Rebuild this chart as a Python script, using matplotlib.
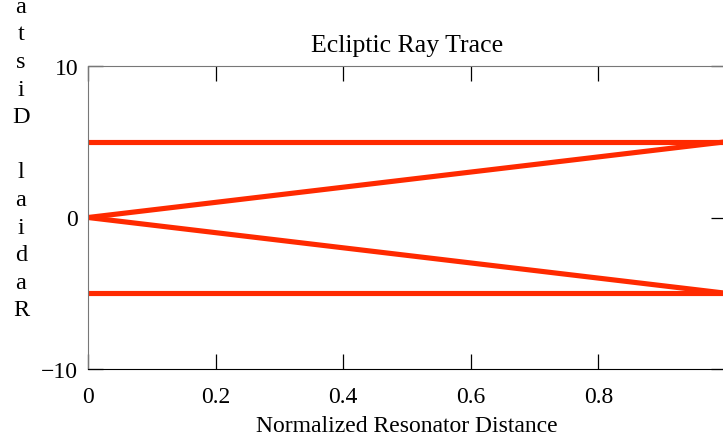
import matplotlib
matplotlib.use("Agg")
import matplotlib.pyplot as plt

# ray trace segments (x in normalized resonator distance, y in radial distance)
x_start = [0, 0, 0, 0]
x_end = [1, 1, 1, 1]
y_start = [5, 0, 0, -5]
y_end = [5, 5, -5, -5]

x_ticks = [0, 0.2, 0.4, 0.6, 0.8]
y_ticks = [-10, 0, 10]
y_label = "Radial Distance"

plt.rcParams['font.family'] = ['Liberation Serif', 'DejaVu Serif']

W, H = 723, 439
fig = plt.figure(figsize=(W / 100, H / 100), dpi=100)
# axes placed in pixels: left 88, right 726, top 67, bottom 370
ax = fig.add_axes([88 / W, (H - 370) / H, (726 - 88) / W, (370 - 67) / H])

for xs, xe, ys, ye in zip(x_start, x_end, y_start, y_end):
    ax.plot([xs, xe], [ys, ye], color='#ff2a00', lw=3.7, solid_capstyle='butt')

ax.set_xlim(0, 1)
ax.set_ylim(-10, 10)
ax.set_xticks(x_ticks)
ax.set_xticklabels(['0', '0.2', '0.4', '0.6', '0.8'])
ax.set_yticks(y_ticks)
ax.set_yticklabels(['\u221210', '0', '10'])
ax.tick_params(direction='in', length=11, width=0.9, labelsize=17, pad=7,
               top=True, right=True, colors='black')
ax.tick_params(axis='x', pad=12)
for s in ['left', 'top', 'right']:
    ax.spines[s].set_color('#777777')
ax.spines['bottom'].set_color('black')

ax.set_title('Ecliptic Ray Trace', fontsize=18.5, pad=11)
ax.set_xlabel('Normalized Resonator Distance', fontsize=17, labelpad=6)

# stacked upright letters reading bottom to top
for i, ch in enumerate(y_label):
    fig.text(21 / W, 1 - (311 - 27.6 * i) / H, ch, fontsize=17.5,
             ha='center', va='center')

fig.savefig('out.png', dpi=100)
